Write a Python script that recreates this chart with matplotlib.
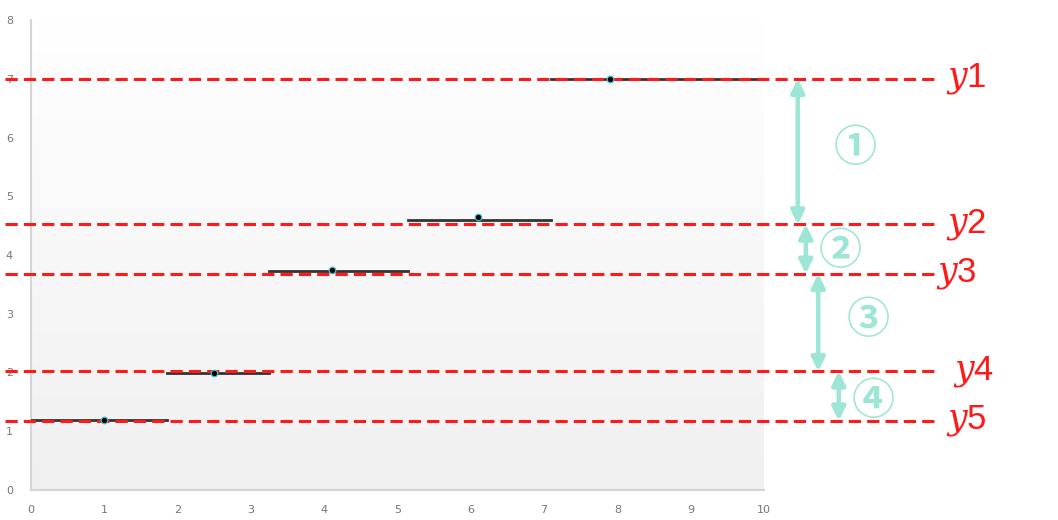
import numpy as np
import matplotlib
matplotlib.use("Agg")
import matplotlib.pyplot as plt
from matplotlib.colors import LinearSegmentedColormap

plt.rcParams['font.family'] = ['DejaVu Sans']
plt.rcParams['mathtext.fontset'] = 'custom'
plt.rcParams['mathtext.it'] = 'DejaVu Serif:italic'
plt.rcParams['mathtext.sf'] = 'Liberation Sans'

# Datos de la función escalonada
seg_inicio = [0, 1.85, 3.25, 5.15, 7.1]
seg_fin = [1.85, 3.25, 5.15, 7.1, 10]
seg_y = [1.2, 2.0, 3.72, 4.6, 7.0]
punto_x = [1, 2.5, 4.1, 6.1, 7.9]
punto_y = [1.2, 2.0, 3.74, 4.64, 7.0]

# Niveles de referencia (líneas rojas)
niveles = [7.0, 4.52, 3.68, 2.02, 1.18]
etiquetas = ["1", "2", "3", "4", "5"]
etiqueta_x = [12.48, 12.48, 12.35, 12.58, 12.48]

# Flechas entre niveles
flecha_x = [10.46, 10.57, 10.74, 11.02]
circulos = ["①", "②", "③", "④"]
circulo_pos = [(11.24, 5.82), (11.04, 4.06), (11.42, 2.9), (11.49, 1.51)]

rojo = "#ff1a1a"
verde = "#9de6d5"

fig = plt.figure(figsize=(10.58, 5.2), dpi=100)
ax = fig.add_axes([31/1058, 30/520, 733/1058, 470/520])

# Fondo degradado
cmap = LinearSegmentedColormap.from_list("fondo", ["#f0f0f0", "#ffffff"])
grad = np.linspace(0, 1, 256).reshape(-1, 1)
ax.imshow(grad, extent=[0, 10, 0, 8], aspect='auto', cmap=cmap, origin='lower', zorder=0)

ax.set_xlim(0, 10)
ax.set_ylim(0, 8)
ax.set_xticks(range(0, 11))
ax.set_yticks(range(0, 9))
ax.tick_params(length=0, colors="#777777", labelsize=8)
ax.tick_params(axis='x', pad=11)
ax.tick_params(axis='y', pad=13)
for s in ["top", "right"]:
    ax.spines[s].set_visible(False)
for s in ["left", "bottom"]:
    ax.spines[s].set_color("#d5d5d5")
    ax.spines[s].set_linewidth(1.5)

# Segmentos y puntos
for x0, x1, y in zip(seg_inicio, seg_fin, seg_y):
    ax.plot([x0, x1], [y, y], color="#333333", lw=2, zorder=3)
ax.scatter(punto_x, punto_y, s=22, color="black", edgecolor="#40c0d0", linewidth=0.9, zorder=5)

# Líneas rojas punteadas
for y, lab, lx in zip(niveles, etiquetas, etiqueta_x):
    ax.plot([-0.36, 12.4], [y, y], color=rojo, lw=2.2, ls=(0, (4, 2)), clip_on=False, zorder=4)
    ax.text(lx, y, r"$y\mathsf{" + lab + "}$", color=rojo, fontsize=25, va='center', ha='left', clip_on=False)

# Flechas
for i, fx in enumerate(flecha_x):
    ax.annotate("", xy=(fx, niveles[i]), xytext=(fx, niveles[i + 1]),
                arrowprops=dict(arrowstyle="<|-|>", color=verde, lw=3.2, mutation_scale=20,
                                shrinkA=0, shrinkB=0),
                annotation_clip=False)
    cx, cy = circulo_pos[i]
    ax.text(cx, cy, circulos[i], color=verde, fontsize=31, fontweight='bold', ha='center', va='center',
            family=['Noto Sans CJK SC', 'DejaVu Sans'], clip_on=False)

fig.savefig("out.png", dpi=100)
